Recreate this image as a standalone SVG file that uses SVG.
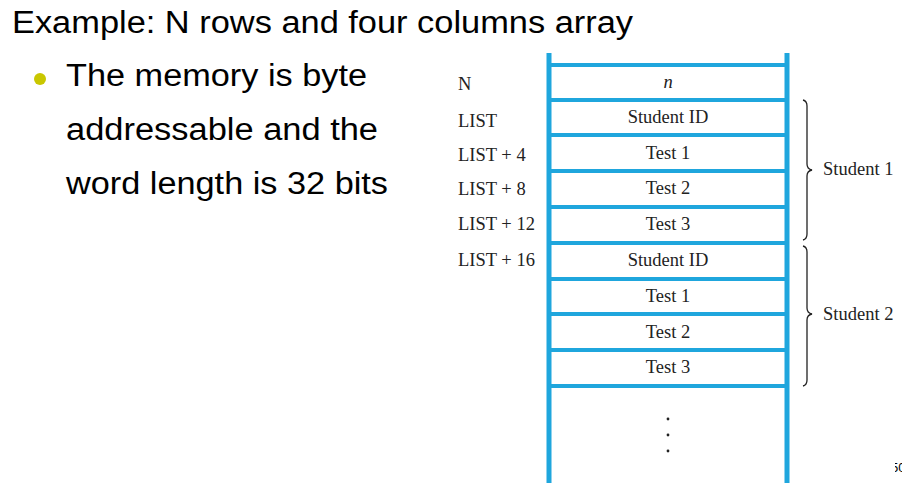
<svg xmlns="http://www.w3.org/2000/svg" width="907" height="483" viewBox="0 0 907 483">
  <style>
    .title { font-family: "Liberation Sans", Arial, sans-serif; font-size: 31px; fill: #000; }
    .bullet { font-family: "Liberation Sans", Arial, sans-serif; font-size: 31px; fill: #000; }
    .lbl { font-family: "Liberation Serif", "Times New Roman", serif; font-size: 18.5px; fill: #222; }
    .cell { font-family: "Liberation Serif", "Times New Roman", serif; font-size: 18.5px; fill: #222; text-anchor: middle; }
    .wall { stroke: #1fa6dd; stroke-width: 5; fill: none; }
    .rule { stroke: #1fa6dd; stroke-width: 4; fill: none; }
    .brace { stroke: #222; stroke-width: 1.3; fill: none; }
    .page { font-family: "Liberation Sans", Arial, sans-serif; font-size: 13px; fill: #000; }
  </style>
  <defs>
    <clipPath id="pageClip"><rect x="895" y="455" width="7" height="25"/></clipPath>
  </defs>
  <rect width="907" height="483" fill="#fff"/>

  <text class="title" x="12" y="33" textLength="621" lengthAdjust="spacingAndGlyphs">Example: N rows and four columns array</text>
  <circle cx="40" cy="79" r="6" fill="#c9c700"/>
  <text class="bullet" x="66" y="86" textLength="301" lengthAdjust="spacingAndGlyphs">The memory is byte</text>
  <text class="bullet" x="66" y="140" textLength="312" lengthAdjust="spacingAndGlyphs">addressable and the</text>
  <text class="bullet" x="66" y="194" textLength="322" lengthAdjust="spacingAndGlyphs">word length is 32 bits</text>

  <!-- memory column -->
  <g id="memory">
    <line class="wall" x1="549" y1="53" x2="549" y2="483"/>
    <line class="wall" x1="787" y1="53" x2="787" y2="483"/>
    <line class="rule" x1="549" y1="65" x2="787" y2="65"/>
    <line class="rule" x1="549" y1="100" x2="787" y2="100"/>
    <line class="rule" x1="549" y1="135" x2="787" y2="135"/>
    <line class="rule" x1="549" y1="171" x2="787" y2="171"/>
    <line class="rule" x1="549" y1="207" x2="787" y2="207"/>
    <line class="rule" x1="549" y1="243" x2="787" y2="243" stroke-width="5"/>
    <line class="rule" x1="549" y1="279" x2="787" y2="279"/>
    <line class="rule" x1="549" y1="314" x2="787" y2="314"/>
    <line class="rule" x1="549" y1="350" x2="787" y2="350"/>
    <line class="rule" x1="549" y1="386" x2="787" y2="386"/>
  </g>

  <g id="cells">
    <text class="cell" x="668" y="88" font-style="italic">n</text>
    <text class="cell" x="668" y="123">Student ID</text>
    <text class="cell" x="668" y="159">Test 1</text>
    <text class="cell" x="668" y="194">Test 2</text>
    <text class="cell" x="668" y="230">Test 3</text>
    <text class="cell" x="668" y="266">Student ID</text>
    <text class="cell" x="668" y="302">Test 1</text>
    <text class="cell" x="668" y="338">Test 2</text>
    <text class="cell" x="668" y="373">Test 3</text>
    <circle cx="668" cy="419" r="1.4" fill="#222"/>
    <circle cx="668" cy="435" r="1.4" fill="#222"/>
    <circle cx="668" cy="451" r="1.4" fill="#222"/>
  </g>

  <g id="addresses">
    <text class="lbl" x="458" y="90">N</text>
    <text class="lbl" x="458" y="127">LIST</text>
    <text class="lbl" x="458" y="161">LIST + 4</text>
    <text class="lbl" x="458" y="195">LIST + 8</text>
    <text class="lbl" x="458" y="230">LIST + 12</text>
    <text class="lbl" x="458" y="266">LIST + 16</text>
  </g>

  <!-- braces grouping each student's record -->
  <g id="student1">
    <path class="brace" d="M803 100 Q807 101 807 106 L807 164 Q807 169 812 170 Q807 171 807 176 L807 234 Q807 239 803 240"/>
    <text class="lbl" x="823" y="175">Student 1</text>
  </g>
  <g id="student2">
    <path class="brace" d="M803 246 Q807 247 807 252 L807 308 Q807 313 812 314 Q807 315 807 320 L807 380 Q807 385 803 386"/>
    <text class="lbl" x="823" y="320">Student 2</text>
  </g>

  <!-- slide number, partly hidden at the edge -->
  <text class="page" x="891" y="472" clip-path="url(#pageClip)">50</text>
</svg>
